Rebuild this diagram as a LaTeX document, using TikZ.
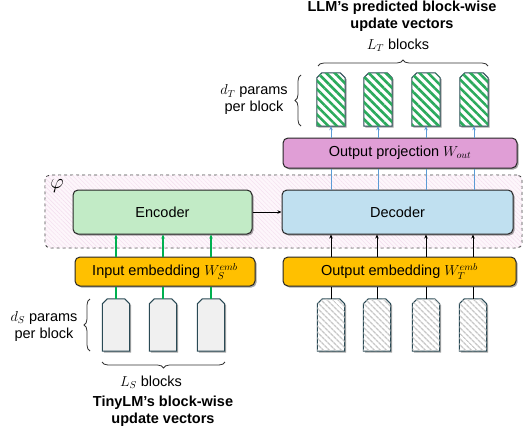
\documentclass[tikz,border=0pt]{standalone}
\usepackage{fontspec}
\setmainfont{Liberation Sans}
\usetikzlibrary{patterns.meta,shadows,decorations.pathreplacing,arrows.meta}
\definecolor{encfill}{HTML}{C2EBC6}
\definecolor{decfill}{HTML}{C0E0F0}
\definecolor{projfill}{HTML}{E09ED6}
\definecolor{embfill}{HTML}{FFC000}
\definecolor{stripegreen}{HTML}{2BAA5C}
\definecolor{blockline}{HTML}{2A4A55}
\definecolor{bluearr}{HTML}{5B9BD5}
\definecolor{arrgreen}{HTML}{00B050}
\definecolor{regionfill}{HTML}{FDF6FB}
\definecolor{regionline}{HTML}{F3DDEE}
\newcommand\fsz{\fontsize{14.5}{17}\selectfont}
\tikzset{
  shad/.style={drop shadow={shadow xshift=1.5pt,shadow yshift=-1.5pt,opacity=.35,fill=black}},
  box/.style={draw=black!85,line width=1pt,rounded corners=5pt,inner sep=0pt,shad},
  blk/.style={rectangle,draw=none,inner sep=0pt,minimum width=27pt,minimum height=52pt},
  blkline/.style={draw=blockline,line width=1pt,shad},
  tfill/.style={blkline,fill=white,postaction={pattern={Lines[angle=-45,distance=6pt,line width=2.6pt]},pattern color=stripegreen}},
  gfill/.style={blkline,fill=white,postaction={pattern={Lines[angle=-45,distance=4pt,line width=1.4pt]},pattern color=black!22}},
  sfill/.style={blkline,fill=black!6},
  arr/.style={-{Stealth[length=4pt,width=3.5pt]},line width=.9pt},
  gline/.style={draw=arrgreen,fill=arrgreen,line width=1.1pt},
  region/.style={draw=black!75,dashed,line width=.9pt,rounded corners=5pt,fill=regionfill,
    postaction={pattern={Lines[angle=-45,distance=3pt,line width=.4pt]},pattern color=regionline},
    inner sep=0pt,minimum width=477pt,minimum height=73pt},
  lbl/.style={align=center,inner sep=0pt},
  brc/.style={decorate,decoration={brace,amplitude=6pt},line width=.8pt,black!80},
}
\newcommand\chamf[2]{\path[#1] (#2.south west) -- ([yshift=-5pt]#2.north west) -- ([xshift=5pt]#2.north west) -- ([xshift=-5pt]#2.north east) -- ([yshift=-5pt]#2.north east) -- (#2.south east) -- cycle;}
\begin{document}
\begin{tikzpicture}[x=1pt,y=-1pt,font=\fsz]
\useasboundingbox (0,0) rectangle (524,434);
% phi region
\node[region] (phi) at (283.5,211.5) {};
\node[lbl,font=\fontsize{20}{22}\selectfont] (phil) at (57,186) {$\varphi$};
% main boxes
\node[box,fill=encfill,minimum width=179pt,minimum height=44pt] (enc) at (162.5,212) {Encoder};
\node[box,fill=decfill,minimum width=231pt,minimum height=44pt] (dec) at (397.5,212) {Decoder};
\node[box,fill=projfill,minimum width=234pt,minimum height=30pt] (proj) at (400,153) {Output projection $W_{out}$};
\node[box,fill=embfill,minimum width=180pt,minimum height=29pt] (inemb) at (165,271.5) {Input embedding $W_S^{emb}$};
\node[box,fill=embfill,minimum width=233pt,minimum height=29pt] (outemb) at (399.5,271.5) {Output embedding $W_T^{emb}$};
% top blocks
\node[blk,minimum width=28pt,minimum height=53pt] (t1) at (331,99.5) {};
\node[blk,minimum width=28pt,minimum height=53pt] (t2) at (378,99.5) {};
\node[blk,minimum width=28pt,minimum height=53pt] (t3) at (426,99.5) {};
\node[blk,minimum width=28pt,minimum height=53pt] (t4) at (474,99.5) {};
\foreach \n in {t1,t2,t3,t4}{\chamf{tfill}{\n}}
% bottom left blocks
\node[blk] (s1) at (116,325) {};
\node[blk] (s2) at (163,325) {};
\node[blk] (s3) at (211,325) {};
\foreach \n in {s1,s2,s3}{\chamf{sfill}{\n}}
% bottom right blocks
\node[blk] (g1) at (331,325) {};
\node[blk] (g2) at (377,325) {};
\node[blk] (g3) at (426,325) {};
\node[blk] (g4) at (473,325) {};
\foreach \n in {g1,g2,g3,g4}{\chamf{gfill}{\n}}
% connectors
\draw[gline] (s1.north) -- (s1.north |- inemb.south);
\draw[gline] (s2.north) -- (s2.north |- inemb.south);
\draw[gline] (s3.north) -- (s3.north |- inemb.south);
\draw[arr,gline] (s1.north |- inemb.north) -- (s1.north |- enc.south);
\draw[arr,gline] (s2.north |- inemb.north) -- (s2.north |- enc.south);
\draw[arr,gline] (s3.north |- inemb.north) -- (s3.north |- enc.south);
\foreach \i in {1,2,3,4}{
  \draw[black,line width=.9pt] (g\i.north) -- (g\i.north |- outemb.south);
  \draw[arr,black] (g\i.north |- outemb.north) -- (g\i.north |- dec.south);
  \draw[draw=bluearr,line width=.9pt] (t\i.south |- dec.north) -- (t\i.south |- proj.south);
  \draw[arr,draw=bluearr,fill=bluearr] (t\i.south |- proj.north) -- (t\i.south);
}
\draw[arr] (enc.east) -- (dec.west);
% braces
\coordinate (bt1) at (318,66);
\coordinate (bt2) at (488,66);
\draw[brc] (bt1) -- (bt2);
\coordinate (bd1) at (301,126);
\coordinate (bd2) at (301,75);
\draw[brc] (bd1) -- (bd2);
\coordinate (bs1) at (225,362);
\coordinate (bs2) at (102,362);
\draw[brc] (bs1) -- (bs2);
\coordinate (bl1) at (90,351);
\coordinate (bl2) at (90,299);
\draw[brc] (bl1) -- (bl2);
% labels
\node[lbl,font=\fsz\bfseries] (ttitle) at (402,16) {LLM’s predicted block-wise\\update vectors};
\node[lbl] (lt) at (398,45) {$L_T$ blocks};
\node[lbl] (dt) at (254,100) {$d_T$ params\\per block};
\node[lbl] (ds) at (44,326) {$d_S$ params\\per block};
\node[lbl] (ls) at (151,382) {$L_S$ blocks};
\node[lbl,font=\fsz\bfseries] (btitle) at (163,411) {TinyLM’s block-wise\\update vectors};
\end{tikzpicture}
\end{document}
